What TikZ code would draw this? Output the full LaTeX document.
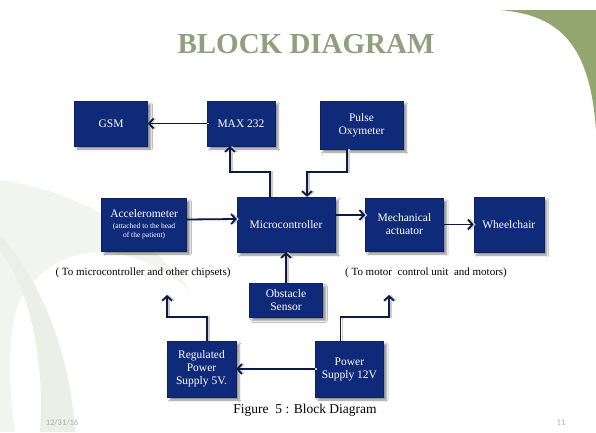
\documentclass[tikz,border=0pt]{standalone}
\usepackage{fontspec}
\setmainfont{Liberation Serif}
\newfontfamily\datefont{Carlito}
\usepackage{tikz}
\usetikzlibrary{arrows.meta,positioning,shadows.blur}
\definecolor{boxblue}{RGB}{16,42,122}
\definecolor{linkblue}{RGB}{12,26,72}
\definecolor{titlegreen}{RGB}{145,160,124}
\definecolor{leafgreen}{RGB}{147,166,111}
\definecolor{swoosh}{RGB}{236,239,232}
\newcommand\tinynote{\fontsize{7.5}{8.5}\selectfont}
\tikzset{
    %Define standard arrow tip
    >={Straight Barb[length=4.5pt,width=10pt]},
    %Define style for blocks
    block/.style={
           rectangle,
           draw=boxblue!80!black, thin,
           fill=boxblue,
           text=white,
           font=\fontsize{11.5}{13}\selectfont,
           align=center,
           inner sep=2pt,
           blur shadow={shadow xshift=3pt, shadow yshift=-3pt,
                        shadow blur steps=6, shadow opacity=45}},
    %Define style for side notes
    note/.style={
           font=\fontsize{11}{12}\selectfont,
           inner sep=1pt},
    % Define arrow style
    link/.style={
           ->,
           draw=linkblue,
           line width=1.8pt,
           preaction={draw=gray!40, line width=1.6pt,
                      transform canvas={xshift=2pt}}}
}

\begin{document}
\begin{tikzpicture}[x=1pt,y=-1pt]
\useasboundingbox (0,0) rectangle (596,432);
\fill[white] (0,0) rectangle (596,432);

 %background
\fill[swoosh!70] (0,180) .. controls (70,190) and (140,225) .. (190,290)
    .. controls (130,240) and (60,235) .. (20,300)
    .. controls (5,330) and (10,400) .. (15,432) -- (0,432) -- cycle;
\fill[swoosh] (0,250) .. controls (30,290) and (45,360) .. (40,432) -- (75,432)
    .. controls (70,350) and (40,280) .. (0,235) -- cycle;
\fill[leafgreen] (500,10) -- (596,10) -- (596,130)
    .. controls (590,45) and (560,15) .. (500,10) -- cycle;

\node[font=\bfseries\fontsize{29}{31}\selectfont, text=titlegreen] (title) at (306,44) {BLOCK DIAGRAM};

 %nodes
\node[block, minimum width=98pt, minimum height=55pt] (mc) at (286,224.5) {Microcontroller};
\node[block, minimum width=85pt, minimum height=53pt, left=50pt of mc] (acc)
    {Accelerometer\\[-2pt]\tinynote (attached to the head\\[-4pt]\tinynote of the patient)};
\node[block, minimum width=78pt, minimum height=53pt, right=30pt of mc] (mech) {Mechanical\\actuator};
\node[block, minimum width=70pt, minimum height=55pt, right=30pt of mech] (wheel) {Wheelchair};
\node[block, minimum width=73pt, minimum height=34pt, below=31pt of mc] (obst) {Obstacle\\Sensor};
\node[block, minimum width=68pt, minimum height=45pt] (max) at (241,123.5) {MAX 232};
\node[block, minimum width=73pt, minimum height=45pt, left=59pt of max] (gsm) {GSM};
\node[block, minimum width=83pt, minimum height=48pt] (pulse) at (361.5,125) {Pulse\\Oxymeter};
\node[block, minimum width=69pt, minimum height=56pt] (reg) at (201.5,369) {Regulated\\Power\\Supply 5V.};
\node[block, minimum width=68pt, minimum height=56pt, right=79pt of reg] (psu) {Power\\Supply 12V};

\node[note] (tochips) at (143,273) {( To microcontroller and other chipsets)};
\node[note] (tomotors) at (426,273) {( To motor\ \ control unit\ \ and motors)};
\coordinate (chipsin) at (167,295);
\coordinate (motorsin) at (389,295);

 %connectors
\draw[link] (max) -- (gsm);
\draw[link] ([xshift=-16pt]mc.north) -- ++(0,-25) -| ([xshift=-11pt]max.south);
\draw[link] ([xshift=-14.5pt]pulse.south) -- ++(0,23) -| ([xshift=21pt]mc.north);
\draw[link] ([yshift=5pt]acc.east) -- ([yshift=5.5pt]mc.west);
\draw[link] ([yshift=9.5pt]mc.east) -- ([yshift=9.5pt]mech.west);
\draw[link] (mech) -- (wheel);
\draw[link] (obst) -- (mc);
\draw[link] ([xshift=5.5pt]reg.north) -- ++(0,-24) -| (chipsin);
\draw[link] ([xshift=-9pt]psu.north) -- ++(0,-24) -| (motorsin);
\draw[link] (psu) -- (reg);

\node[font=\fontsize{13.5}{15}\selectfont] (caption) at (305,410) {Figure\ \ 5 : Block Diagram};
\node[font=\datefont\fontsize{8.5}{9}\selectfont, text=gray!65] (date) at (62,423) {12/31/16};
\node[font=\datefont\fontsize{8.5}{9}\selectfont, text=gray!65] (page) at (561,423) {11};
\end{tikzpicture}
\end{document}
